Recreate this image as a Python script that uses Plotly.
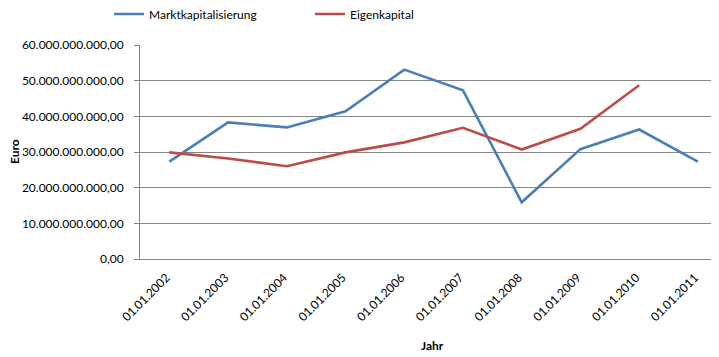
import plotly.graph_objects as go

categories = ["01.01.2002", "01.01.2003", "01.01.2004", "01.01.2005", "01.01.2006",
              "01.01.2007", "01.01.2008", "01.01.2009", "01.01.2010", "01.01.2011"]
marktkapitalisierung = [27.3e9, 38.3e9, 36.9e9, 41.4e9, 53.1e9, 47.3e9, 15.9e9, 30.8e9, 36.3e9, 27.3e9]
eigenkapital = [29.9e9, 28.2e9, 26.0e9, 29.9e9, 32.7e9, 36.8e9, 30.7e9, 36.5e9, 48.7e9, None]
y_ticks = [0, 10e9, 20e9, 30e9, 40e9, 50e9, 60e9]

FONT = "Lato"

fig = go.Figure()
fig.add_trace(go.Scatter(x=categories, y=marktkapitalisierung, mode="lines",
                         name="Marktkapitalisierung",
                         line=dict(color="#4A7EBB", width=2.6)))
fig.add_trace(go.Scatter(x=categories, y=eigenkapital, mode="lines",
                         name="Eigenkapital",
                         line=dict(color="#BE4B48", width=2.6)))

# page body has an 8px default margin: figure is sized/offset to compensate
W, H = 711, 349
L, T, B = 132, 37, 98
PW, PH = W - L, H - T - B


def px_to_paper_x(sx):
    return (sx - 8 - L) / PW


def px_to_paper_y(sy):
    return (H - B - (sy - 8)) / PH


fig.update_layout(
    width=W, height=H,
    margin=dict(l=L, r=0, t=T, b=B, autoexpand=False),
    paper_bgcolor="white", plot_bgcolor="white",
    separators=",.",
    font=dict(family=FONT, size=12, color="#000000"),
    showlegend=True,
    legend=dict(orientation="h", x=101 / W, xref="container",
                y=px_to_paper_y(14), yref="paper",
                xanchor="left", yanchor="middle",
                font=dict(family=FONT, size=12, color="#000000"),
                entrywidth=156, entrywidthmode="pixels",
                bgcolor="rgba(0,0,0,0)", traceorder="normal"),
    xaxis=dict(
        type="category",
        range=[-0.5, 9.36],
        tickangle=-45,
        showgrid=False,
        showline=True, linecolor="#868686", linewidth=1,
        ticks="",
        ticklabelshift=-3,
        ticklabelstandoff=6,
        automargin=False,
        tickfont=dict(family=FONT, size=12, color="#000000"),
        zeroline=False,
    ),
    yaxis=dict(
        range=[0, 60e9],
        tickvals=y_ticks,
        tickformat=",.2f",
        showgrid=True, gridcolor="#868686", gridwidth=1,
        showline=True, linecolor="#868686", linewidth=1,
        ticks="outside", ticklen=5, tickcolor="#868686",
        ticklabelstandoff=8,
        automargin=False,
        tickfont=dict(family=FONT, size=12, color="#000000"),
        zeroline=False,
    ),
    annotations=[
        dict(text="<b>Jahr</b>", xref="paper", yref="paper",
             x=px_to_paper_x(432), y=px_to_paper_y(345),
             xanchor="center", yanchor="middle", showarrow=False,
             font=dict(family=FONT, size=12, color="#000000")),
        dict(text="<b>Euro</b>", xref="paper", yref="paper",
             x=px_to_paper_x(14), y=px_to_paper_y(152), textangle=-90,
             xanchor="center", yanchor="middle", showarrow=False,
             font=dict(family=FONT, size=12, color="#000000")),
    ],
)

fig.write_html("out.html")
